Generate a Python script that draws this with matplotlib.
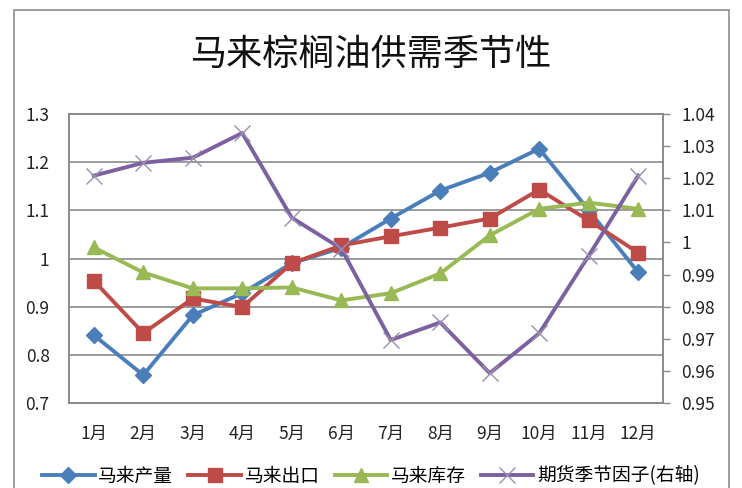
import matplotlib
matplotlib.use("Agg")
import matplotlib.pyplot as plt
from matplotlib.patches import Rectangle

plt.rcParams['font.family'] = ['Noto Sans CJK SC', 'DejaVu Sans']

months = ["1月", "2月", "3月", "4月", "5月", "6月", "7月", "8月", "9月", "10月", "11月", "12月"]
production = [0.841, 0.758, 0.882, 0.928, 0.990, 1.022, 1.083, 1.141, 1.178, 1.228, 1.100, 0.971]
exports = [0.954, 0.845, 0.917, 0.899, 0.990, 1.027, 1.046, 1.064, 1.083, 1.143, 1.079, 1.012]
stocks = [1.023, 0.971, 0.938, 0.938, 0.940, 0.913, 0.928, 0.969, 1.048, 1.103, 1.116, 1.103]
seasonal = [1.0208, 1.0248, 1.0264, 1.0341, 1.0077, 0.9981, 0.9696, 0.9751, 0.9593, 0.9717, 0.9959, 1.0208]
left_ticks = [0.7, 0.8, 0.9, 1.0, 1.1, 1.2, 1.3]
left_labels = ["0.7", "0.8", "0.9", "1", "1.1", "1.2", "1.3"]
right_ticks = [0.95, 0.96, 0.97, 0.98, 0.99, 1.00, 1.01, 1.02, 1.03, 1.04]
right_labels = ["0.95", "0.96", "0.97", "0.98", "0.99", "1", "1.01", "1.02", "1.03", "1.04"]
title = "马来棕榈油供需季节性"
names = ["马来产量", "马来出口", "马来库存", "期货季节因子(右轴)"]

W, H = 742, 488
fig = plt.figure(figsize=(W / 100, H / 100), dpi=100)
fig.patch.set_facecolor("white")
fig.patches.append(Rectangle((14 / W, -0.05), (729 - 14) / W, 1 - 10 / H + 0.05,
                             transform=fig.transFigure, fill=False,
                             edgecolor="#8c8c8c", linewidth=1.2))

ax = fig.add_axes([69 / W, 1 - 403 / H, (663 - 69) / W, (403 - 114) / H])
ax2 = ax.twinx()

x = list(range(len(months)))
c_blue, c_red, c_green, c_purple = "#4A7EBB", "#BE4B48", "#98B954", "#7D60A0"
grid_c = "#8a8a8a"

l1, = ax.plot(x, production, color=c_blue, lw=2.8, marker="D", ms=8, zorder=4)
l2, = ax.plot(x, exports, color=c_red, lw=2.8, marker="s", ms=10, zorder=4)
l3, = ax.plot(x, stocks, color=c_green, lw=2.8, marker="^", ms=10, zorder=4)
l4, = ax2.plot(x, seasonal, color=c_purple, lw=2.8, marker="x", ms=12, mew=1.0,
               mec="#9a8fb0", zorder=4)

ax.set_xlim(-0.5, 11.5)
ax.set_ylim(0.7, 1.3)
ax.set_yticks(left_ticks)
ax.set_yticklabels(left_labels)
ax.set_xticks(x)
ax.set_xticklabels(months)
ax.yaxis.grid(True, color=grid_c, lw=1.2)
ax.set_axisbelow(True)
ax.tick_params(axis="y", length=0, pad=14, labelsize=12.5, colors="#222222")
ax.tick_params(axis="x", length=0, pad=16, labelsize=12.5, colors="#222222")

ax2.set_ylim(0.95, 1.04)
ax2.set_yticks(right_ticks)
ax2.set_yticklabels(right_labels)
ax2.tick_params(axis="y", length=5, width=1, color=grid_c, pad=8, labelsize=12.5,
                labelcolor="#222222")

for a in (ax, ax2):
    for s in a.spines.values():
        s.set_color(grid_c)
        s.set_linewidth(1.2)

fig.text(372 / W, 1 - 55 / H, title, ha="center", va="center", fontsize=26,
         fontweight="medium", color="#111111")

fig.legend([l1, l2, l3, l4], names, loc="center", ncol=4,
           bbox_to_anchor=(0.5, 1 - 476 / H), frameon=False, fontsize=13.5,
           handlelength=2.8, columnspacing=0.8, handletextpad=0.2,
           borderpad=0.1)

fig.savefig("out.png", dpi=100, facecolor="white")
